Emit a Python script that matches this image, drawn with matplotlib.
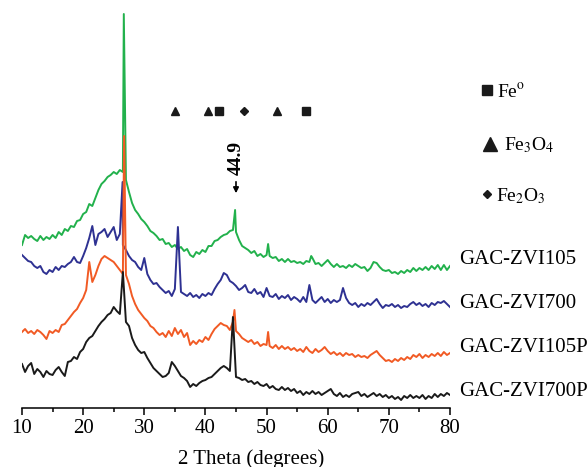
import numpy as np
import matplotlib.pyplot as plt

plt.rcParams['font.family'] = ['Liberation Serif', 'DejaVu Serif']
plt.rcParams['mathtext.fontset'] = 'stix'

# 2 theta grid (degrees), 0.5 step
two_theta = np.linspace(10, 80, 141)

# intensities (a.u., already offset for stacking)
zvi105 = [163, 173, 170, 172, 169, 167, 172, 168, 171, 169,
          173, 170, 176, 173, 179, 177, 182, 181, 187, 188,
          194, 196, 204, 202, 210, 218, 224, 227, 231, 233,
          236, 234, 238, 236, 228, 216, 205, 198, 194, 189,
          186, 182, 177, 175, 172, 168, 169, 164, 165, 161,
          163, 159, 161, 157, 159, 153, 151, 156, 154, 158,
          156, 162, 162, 167, 168, 171, 173, 174, 177, 178,
          176, 168, 162, 160, 158, 155, 157, 152, 154, 151,
          153, 152, 150, 151, 147, 149, 146, 149, 146, 147,
          145, 146, 144, 147, 146, 150, 144, 145, 142, 145,
          148, 144, 141, 144, 141, 142, 140, 143, 141, 144,
          142, 140, 141, 137, 140, 146, 145, 141, 138, 137,
          138, 135, 136, 134, 137, 135, 138, 136, 140, 137,
          140, 138, 141, 138, 142, 139, 143, 138, 143, 138,
          142]
zvi105_peak_x = [26.65, 44.85, 50.25, 57.3]
zvi105_peak_y = [394, 198, 164, 152]

zvi700 = [153, 150, 147, 146, 142, 140, 142, 136, 134, 138,
          136, 141, 138, 142, 141, 144, 146, 151, 146, 145,
          152, 160, 170, 182, 163, 174, 176, 179, 171, 176,
          181, 168, 174, 163, 158, 152, 148, 146, 141, 138,
          150, 134, 128, 124, 125, 121, 118, 115, 117, 112,
          119, 181, 116, 114, 112, 115, 111, 113, 110, 114,
          112, 115, 113, 119, 124, 128, 135, 133, 127, 125,
          122, 118, 120, 123, 116, 115, 119, 114, 116, 111,
          120, 112, 111, 114, 109, 112, 110, 113, 108, 111,
          109, 106, 111, 106, 123, 108, 105, 108, 111, 106,
          109, 105, 108, 106, 108, 120, 110, 105, 103, 105,
          101, 104, 102, 105, 103, 106, 109, 104, 100, 103,
          102, 104, 101, 103, 100, 102, 101, 104, 106, 103,
          105, 102, 104, 101, 105, 103, 106, 105, 107, 104,
          101]
zvi700_peak_x = [26.45]
zvi700_peak_y = [226]

zvi105p = [76, 79, 75, 77, 74, 78, 76, 73, 69, 77,
           75, 78, 76, 83, 84, 88, 92, 96, 99, 105,
           110, 118, 146, 126, 133, 142, 149, 152, 150, 148,
           146, 142, 138, 134, 133, 124, 112, 104, 98, 94,
           90, 87, 82, 80, 76, 73, 75, 71, 77, 72,
           80, 74, 78, 71, 75, 63, 67, 64, 68, 66,
           71, 68, 74, 79, 82, 85, 83, 82, 78, 86,
           77, 74, 70, 68, 66, 68, 64, 66, 62, 64,
           63, 62, 60, 63, 59, 62, 59, 61, 58, 60,
           57, 59, 56, 61, 57, 55, 59, 56, 58, 61,
           57, 54, 56, 53, 55, 52, 55, 53, 54, 51,
           53, 51, 52, 50, 53, 55, 57, 53, 50, 47,
           48, 46, 49, 47, 50, 48, 51, 49, 53, 51,
           54, 50, 53, 51, 54, 52, 55, 52, 56, 53,
           55]
zvi105p_peak_x = [26.7, 44.75, 50.25]
zvi105p_peak_y = [272, 98, 76]

zvi700p = [44, 36, 42, 45, 34, 39, 36, 31, 37, 34,
           33, 38, 41, 36, 32, 46, 47, 51, 49, 56,
           59, 66, 70, 72, 77, 82, 86, 89, 93, 95,
           101, 97, 94, 136, 86, 82, 70, 63, 58, 55,
           56, 50, 45, 40, 37, 34, 31, 32, 35, 46,
           42, 37, 32, 30, 27, 21, 24, 22, 25, 27,
           28, 30, 31, 34, 37, 40, 42, 40, 37, 91,
           31, 30, 28, 29, 26, 27, 24, 26, 23, 22,
           24, 20, 22, 19, 18, 21, 18, 20, 17, 19,
           15, 17, 13, 16, 14, 17, 14, 16, 13, 15,
           17, 19, 14, 12, 15, 11, 13, 11, 14, 15,
           16, 12, 14, 11, 13, 15, 12, 14, 11, 13,
           10, 12, 9, 11, 8, 12, 10, 13, 10, 12,
           10, 13, 9, 12, 10, 14, 11, 14, 12, 15,
           13]
zvi700p_peak_x = []
zvi700p_peak_y = []

names = ['GAC-ZVI105', 'GAC-ZVI700', 'GAC-ZVI105P', 'GAC-ZVI700P']
colors = ['#22b14c', '#2e3192', '#f15a24', '#1a1a1a']
label_y = [148, 104, 60, 17]

# phase markers
fe_x = [42.2, 56.4]
fe3o4_x = [35.0, 40.4, 51.7]
fe2o3_x = [46.3]
marker_level = 297


def merged(base, px, py):
    x = np.concatenate([two_theta, px])
    y = np.concatenate([base, py])
    order = np.argsort(x)
    return x[order], y[order]


fig = plt.figure(figsize=(5.88, 4.67), dpi=100)
ax = fig.add_axes([22 / 588, 59 / 467, 428 / 588, 408 / 467])

curves = [(zvi105, zvi105_peak_x, zvi105_peak_y),
          (zvi700, zvi700_peak_x, zvi700_peak_y),
          (zvi105p, zvi105p_peak_x, zvi105p_peak_y),
          (zvi700p, zvi700p_peak_x, zvi700p_peak_y)]
for (base, px, py), c, name, ly in zip(curves, colors, names, label_y):
    x, y = merged(base, px, py)
    ax.plot(x, y, color=c, lw=1.4)
    ax.text(81.5, ly, name, fontsize=15, ha='left', va='center', clip_on=False)

ax.plot(fe_x, [marker_level] * len(fe_x), 's', color='#1a1a1a', ms=6, clip_on=False)
ax.plot(fe3o4_x, [marker_level] * len(fe3o4_x), '^', color='#1a1a1a', ms=6, clip_on=False)
ax.plot(fe2o3_x, [marker_level] * len(fe2o3_x), 'D', color='#1a1a1a', ms=4, clip_on=False)

# legend for markers
ax.plot([86.0], [318], 's', color='#1a1a1a', ms=7, clip_on=False)
ax.plot([86.55], [264], '^', color='#1a1a1a', ms=10, clip_on=False)
ax.plot([86.0], [214], 'D', color='#1a1a1a', ms=4.5, clip_on=False)
ax.text(87.7, 316, r'Fe$^{\mathrm{o}}$', fontsize=14, va='center', ha='left')
ax.text(88.9, 263, r'Fe$_{\mathrm{3}}$O$_{\mathrm{4}}$', fontsize=14, va='center', ha='left')
ax.text(87.6, 212, r'Fe$_{\mathrm{2}}$O$_{\mathrm{3}}$', fontsize=14, va='center', ha='left')

# 44.9 annotation
ax.text(45.0, 250, '44.9', rotation=90, fontsize=14, fontweight='bold',
        ha='center', va='center')
ax.annotate('', xy=(45.0, 212), xytext=(45.0, 229),
            arrowprops=dict(arrowstyle='-|>', color='black', lw=1.2,
                            mutation_scale=8))

ax.set_xlim(10, 80)
ax.set_ylim(0, 408)
ax.set_xticks(range(10, 81, 10))
ax.set_xticks(range(15, 80, 10), minor=True)
ax.tick_params(axis='x', which='major', length=5, width=1.1, labelsize=15, pad=3)
ax.tick_params(axis='x', which='minor', length=3, width=1.1)
ax.set_yticks([])
for s in ['left', 'right', 'top']:
    ax.spines[s].set_visible(False)
ax.spines['bottom'].set_linewidth(1.1)
ax.set_xlabel('2 Theta (degrees)', fontsize=15)
ax.xaxis.set_label_coords(0.535, -0.1)
ax.patch.set_alpha(0)

fig.savefig('out.png', dpi=100)
